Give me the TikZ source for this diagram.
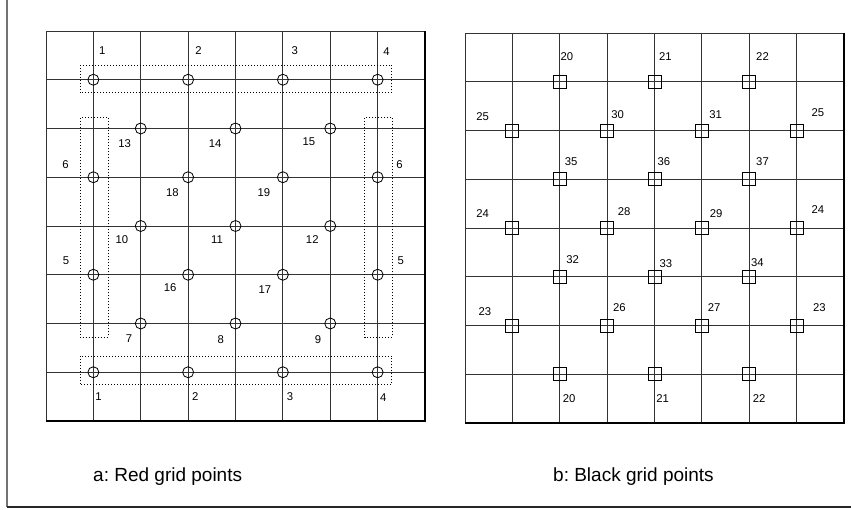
\documentclass[tikz,border=0pt]{standalone}
\usepackage{fontspec}
\setmainfont{Liberation Sans}
\frenchspacing

\tikzset{
  gridline/.style={black!80, line width=0.8pt},
  gridedge/.style={black, line width=1.8pt},
  redpt/.style={black, line width=0.8pt},
  blackpt/.style={black, line width=0.9pt},
  ptgroup/.style={black, line width=1pt, dotted},
  lbl/.style={inner sep=0pt, font=\fontsize{11.3}{13}\selectfont},
  caption/.style={inner sep=0pt, anchor=base west, font=\fontsize{19}{22}\selectfont},
}

\begin{document}
\begin{tikzpicture}[x=1pt, y=-1pt]
  \useasboundingbox (0,0) rectangle (851,510);
  \draw[black!55, line width=1.5pt] (7,0) -- (7,507);
  \draw[black!85, line width=1.5pt] (7,507) -- (851,507);

  % a: red grid points
  \begin{scope}[xshift=46pt, yshift=-31pt, x=47.375pt, y=-48.75pt]
    \foreach \k in {0,...,8} {
      \draw[gridline] (\k,0) -- (\k,8);
      \draw[gridline] (0,\k) -- (8,\k);
    }
    \draw[gridedge] (0,8) -- (8,8) -- (8,0);

    \foreach \j in {1,3,5,7}
      \foreach \i in {1,3,5,7}
        \draw[redpt] (\i,\j) circle (5.5pt);
    \foreach \j in {2,4,6}
      \foreach \i in {2,4,6}
        \draw[redpt] (\i,\j) circle (5.5pt);

    \draw[ptgroup] (0.72,0.70) rectangle (7.30,1.27);
    \draw[ptgroup] (0.72,6.67) rectangle (7.30,7.26);
    \draw[ptgroup] (0.72,1.78) rectangle (1.31,6.28);
    \draw[ptgroup] (6.73,1.78) rectangle (7.32,6.28);

    \node[lbl] (ra1) at (1.19,0.40) {1};
    \node[lbl] (ra2) at (3.22,0.40) {2};
    \node[lbl] (ra3) at (5.25,0.40) {3};
    \node[lbl] (ra4) at (7.19,0.43) {4};
    \node[lbl] (ra13) at (1.66,2.31) {13};
    \node[lbl] (ra14) at (3.57,2.30) {14};
    \node[lbl] (ra15) at (5.55,2.26) {15};
    \node[lbl] (ra6l) at (0.41,2.75) {6};
    \node[lbl] (ra6r) at (7.46,2.75) {6};
    \node[lbl] (ra18) at (2.67,3.31) {18};
    \node[lbl] (ra19) at (4.60,3.31) {19};
    \node[lbl] (ra10) at (1.60,4.27) {10};
    \node[lbl] (ra11) at (3.61,4.27) {11};
    \node[lbl] (ra12) at (5.62,4.27) {12};
    \node[lbl] (ra5l) at (0.42,4.72) {5};
    \node[lbl] (ra5r) at (7.49,4.72) {5};
    \node[lbl] (ra16) at (2.62,5.27) {16};
    \node[lbl] (ra17) at (4.62,5.31) {17};
    \node[lbl] (ra7) at (1.75,6.30) {7};
    \node[lbl] (ra8) at (3.69,6.34) {8};
    \node[lbl] (ra9) at (5.74,6.34) {9};
    \node[lbl] (rb1) at (1.11,7.49) {1};
    \node[lbl] (rb2) at (3.15,7.49) {2};
    \node[lbl] (rb3) at (5.15,7.49) {3};
    \node[lbl] (rb4) at (7.12,7.52) {4};
  \end{scope}

  % b: black grid points
  \begin{scope}[xshift=465pt, yshift=-33pt, x=47.375pt, y=-48.75pt]
    \foreach \k in {0,...,8} {
      \draw[gridline] (\k,0) -- (\k,8);
      \draw[gridline] (0,\k) -- (8,\k);
    }
    \draw[gridedge] (0,8) -- (8,8) -- (8,0);

    \foreach \j in {1,3,5,7}
      \foreach \i in {2,4,6}
        \draw[blackpt] (\i,\j) ++(-6.5pt,-6.5pt) rectangle ++(13pt,13pt);
    \foreach \j in {2,4,6}
      \foreach \i in {1,3,5,7}
        \draw[blackpt] (\i,\j) ++(-6.5pt,-6.5pt) rectangle ++(13pt,13pt);

    \node[lbl] (ka20) at (2.15,0.49) {20};
    \node[lbl] (ka21) at (4.23,0.49) {21};
    \node[lbl] (ka22) at (6.28,0.49) {22};
    \node[lbl] (ka25l) at (0.37,1.72) {25};
    \node[lbl] (ka30) at (3.22,1.68) {30};
    \node[lbl] (ka31) at (5.29,1.68) {31};
    \node[lbl] (ka25r) at (7.45,1.64) {25};
    \node[lbl] (ka35) at (2.24,2.63) {35};
    \node[lbl] (ka36) at (4.20,2.63) {36};
    \node[lbl] (ka37) at (6.28,2.63) {37};
    \node[lbl] (ka24l) at (0.37,3.71) {24};
    \node[lbl] (ka28) at (3.36,3.67) {28};
    \node[lbl] (ka29) at (5.30,3.71) {29};
    \node[lbl] (ka24r) at (7.45,3.63) {24};
    \node[lbl] (ka32) at (2.27,4.65) {32};
    \node[lbl] (ka33) at (4.24,4.74) {33};
    \node[lbl] (ka34) at (6.17,4.70) {34};
    \node[lbl] (ka23l) at (0.42,5.72) {23};
    \node[lbl] (ka26) at (3.26,5.64) {26};
    \node[lbl] (ka27) at (5.26,5.64) {27};
    \node[lbl] (ka23r) at (7.48,5.64) {23};
    \node[lbl] (kb20) at (2.20,7.49) {20};
    \node[lbl] (kb21) at (4.17,7.49) {21};
    \node[lbl] (kb22) at (6.21,7.49) {22};
  \end{scope}

  \node[caption] (capa) at (93,481) {a: Red grid points};
  \node[caption] (capb) at (553,481) {b: Black grid points};
\end{tikzpicture}
\end{document}
